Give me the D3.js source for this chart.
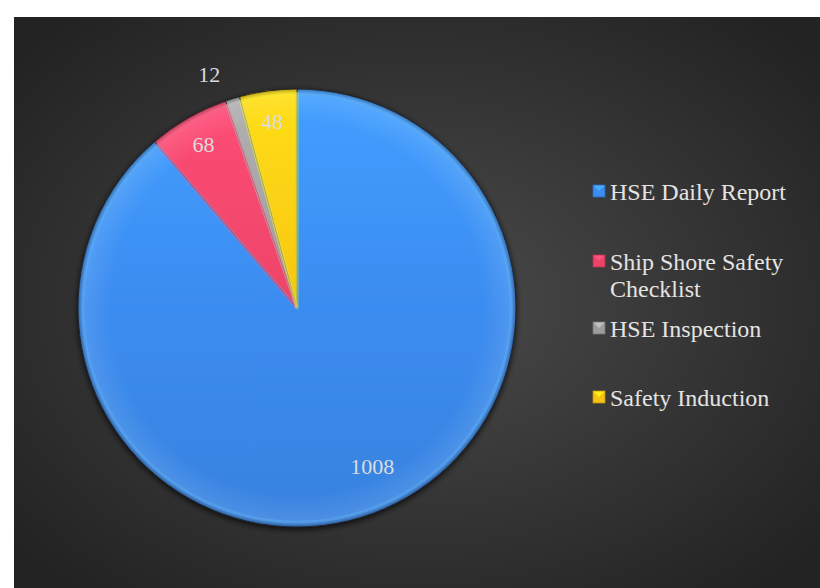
<!DOCTYPE html>
<html><head><meta charset="utf-8">
<script src="https://cdn.jsdelivr.net/npm/d3@7/dist/d3.min.js"></script>
<style>html,body{margin:0;padding:0;background:#fff;}svg{display:block;}</style>
</head><body>
<script>
const categories = ["HSE Daily Report", "Ship Shore Safety Checklist", "HSE Inspection", "Safety Induction"];
const values = [1008, 68, 12, 48];
const colors = ["#3b8cf0", "#ec4468", "#9c9c9c", "#f7c511"];
const legendLines = [["HSE Daily Report"], ["Ship Shore Safety", "Checklist"], ["HSE Inspection"], ["Safety Induction"]];

const W = 820, H = 588;
const svg = d3.select("body").append("svg").attr("width", W).attr("height", H);
const defs = svg.append("defs");

const bg = defs.append("radialGradient").attr("id", "bg").attr("cx", "50%").attr("cy", "50%").attr("r", "65%");
bg.append("stop").attr("offset", "0%").attr("stop-color", "#4b4b4b");
bg.append("stop").attr("offset", "100%").attr("stop-color", "#232323");

const sh = defs.append("filter").attr("id", "shadow").attr("x", "-20%").attr("y", "-20%").attr("width", "140%").attr("height", "140%");
sh.append("feGaussianBlur").attr("in", "SourceAlpha").attr("stdDeviation", 3).attr("result", "b");
sh.append("feOffset").attr("in", "b").attr("dx", 0).attr("dy", 2).attr("result", "o");
sh.append("feComponentTransfer").attr("in", "o").attr("result", "o2").append("feFuncA").attr("type", "linear").attr("slope", 0.8);
const mg = sh.append("feMerge");
mg.append("feMergeNode").attr("in", "o2");
mg.append("feMergeNode").attr("in", "SourceGraphic");

const cx = 297, cy = 308, R = 219;

const gloss = defs.append("radialGradient").attr("id", "gloss").attr("gradientUnits", "userSpaceOnUse")
  .attr("cx", 0).attr("cy", 0).attr("r", R);
gloss.append("stop").attr("offset", "0%").attr("stop-color", "#fff").attr("stop-opacity", 0);
gloss.append("stop").attr("offset", "85%").attr("stop-color", "#fff").attr("stop-opacity", 0.0);
gloss.append("stop").attr("offset", "97%").attr("stop-color", "#fff").attr("stop-opacity", 0.1);
gloss.append("stop").attr("offset", "100%").attr("stop-color", "#000").attr("stop-opacity", 0.3);

svg.append("rect").attr("x", 14).attr("y", 17).attr("width", W - 14).attr("height", H - 17).attr("fill", "url(#bg)");

const pie = d3.pie().sort(null).value(d => d)(values);
const arc = d3.arc().innerRadius(0).outerRadius(R);
const g = svg.append("g").attr("transform", `translate(${cx},${cy})`);
const pg = g.append("g").attr("filter", "url(#shadow)");

pie.forEach((p, i) => {
  const lg = defs.append("linearGradient").attr("id", "sl" + i).attr("gradientUnits", "userSpaceOnUse")
    .attr("x1", 0).attr("y1", -R).attr("x2", 0).attr("y2", R);
  const c = d3.color(colors[i]);
  lg.append("stop").attr("offset", "0%").attr("stop-color", c.brighter(0.35));
  lg.append("stop").attr("offset", "50%").attr("stop-color", c);
  lg.append("stop").attr("offset", "100%").attr("stop-color", c.darker(0.2));
});

pg.selectAll("path.slice").data(pie).join("path").attr("class", "slice")
  .attr("d", arc).attr("fill", (d, i) => `url(#sl${i})`)
  .attr("stroke", "#1f1f1f").attr("stroke-width", 0.8).attr("stroke-linejoin", "round");

g.selectAll("path.bevel").data(pie).join("path").attr("class", "bevel")
  .attr("d", d3.arc().innerRadius(0).outerRadius(R - 1.5))
  .attr("fill", "none").attr("stroke", (d, i) => d3.color(colors[i]).brighter(0.6))
  .attr("stroke-opacity", 0.45).attr("stroke-width", 3)
  .attr("transform", "scale(0.985)");
g.append("circle").attr("r", R).attr("fill", "url(#gloss)").attr("pointer-events", "none");

// labels
const labelArcIn = d3.arc().innerRadius(R * 0.86).outerRadius(R * 0.86);
const labelArcBig = d3.arc().innerRadius(R * 0.8).outerRadius(R * 0.8);
const labelArcOut = d3.arc().innerRadius(R * 1.14).outerRadius(R * 1.14);
g.selectAll("text.lbl").data(pie).join("text").attr("class", "lbl")
  .attr("transform", d => {
    const span = d.endAngle - d.startAngle;
    let x, y;
    if (span < 0.1) {
      const a = (d.startAngle + d.endAngle) / 2 - 0.06;
      [x, y] = labelArcOut.centroid({startAngle: a, endAngle: a});
    } else if (span > Math.PI) {
      const a = (d.startAngle + d.endAngle) / 2 - 0.09;
      [x, y] = labelArcBig.centroid({startAngle: a, endAngle: a});
    } else {
      [x, y] = labelArcIn.centroid(d);
    }
    return `translate(${x},${y})`;
  })
  .attr("text-anchor", "middle").attr("dy", "0.35em")
  .attr("font-family", "Liberation Serif, Times New Roman, serif").attr("font-size", 22)
  .attr("fill", "#dcdcdc").text(d => d.data);

// legend
const legendY = [192, 262, 329, 398];
const lgG = svg.append("g");
categories.forEach((c, i) => {
  const y = legendY[i];
  const col = d3.color(colors[i]);
  lgG.append("rect").attr("x", 593).attr("y", y - 7).attr("width", 12).attr("height", 12)
    .attr("fill", col).attr("stroke", col.darker(0.8)).attr("stroke-width", 0.8);
  lgG.append("path").attr("d", `M${593.5},${y - 6.5} L${604.5},${y - 6.5} L${599},${y - 1} Z`)
    .attr("fill", col.brighter(0.8)).attr("opacity", 0.7);
  const t = lgG.append("text").attr("x", 610).attr("y", y + 8)
    .attr("font-family", "Liberation Serif, Times New Roman, serif").attr("font-size", 24).attr("fill", "#e4e4e4");
  legendLines[i].forEach((ln, j) => t.append("tspan").attr("x", 610).attr("dy", j === 0 ? 0 : 27).text(ln));
});
</script>
</body></html>
